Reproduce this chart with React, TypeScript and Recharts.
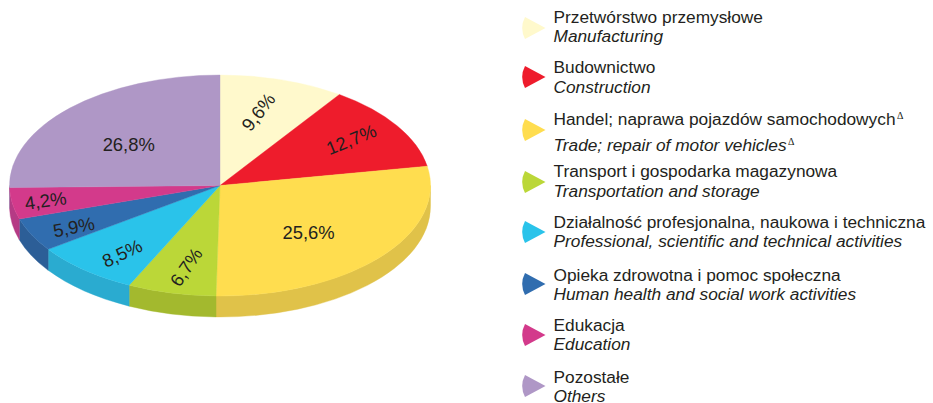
import { Legend, Pie, PieChart } from 'recharts'

// printed percentages
const sharesPrinted = ['9,6%', '12,7%', '25,6%', '6,7%', '8,5%', '5,9%', '4,2%', '26,8%']
// the wedges in the source drawing are not quite to scale, so sizes are read off the picture
const wedgeShares = [9.6, 12.6, 28.1, 6.8, 8.1, 4.9, 4.6, 25.3]
const namesPl = [
  'Przetwórstwo przemysłowe',
  'Budownictwo',
  'Handel; naprawa pojazdów samochodowych',
  'Transport i gospodarka magazynowa',
  'Działalność profesjonalna, naukowa i techniczna',
  'Opieka zdrowotna i pomoc społeczna',
  'Edukacja',
  'Pozostałe',
]
const namesEn = [
  'Manufacturing',
  'Construction',
  'Trade; repair of motor vehicles',
  'Transportation and storage',
  'Professional, scientific and technical activities',
  'Human health and social work activities',
  'Education',
  'Others',
]
const footnoted = [false, false, true, false, false, false, false, false]

const topColors = ['#FFF9CC', '#EE1C2C', '#FFDD4F', '#BBD738', '#2AC3EA', '#306DAF', '#D33A8B', '#AF97C6']
const wallColors = ['#E6E0B8', '#C8202C', '#E0C249', '#A3B92E', '#2AABD0', '#2C5E97', '#B53A85', '#9A86B0']

// label placement on the ellipse: radius factor, angle nudge (deg), text rotation
const labelRadius = [0.69, 0.75, 0.6, 0.755, 0.77, 0.79, 0.84, 0.57]
const labelNudge = [-2, -1, 5, -1, -3, -2, 0, -4]
const labelRotate = [-52, -22, 0, -55, -25, -11, -8, 0]

// legend rows: y of the two text lines and of the marker
const rowFirstY = [17, 67, 119, 171, 222, 275, 325, 377]
const rowSecondY = [36, 87, 145, 191, 241, 294, 344, 396]
const rowIconY = [28, 77, 130, 182, 232, 284, 335, 386]

const CX = 220
const CY = 185.5
const RX = 210.5
const RY = 110.5
const DEPTH = 21

const FONT = '"Liberation Sans", Arial, sans-serif'
const TEXT = '#231F20'

const data = namesPl.map((name, i) => ({ name, value: wedgeShares[i], fill: topColors[i] }))
const wallData = namesPl.map((name, i) => ({ name, value: wedgeShares[i], fill: wallColors[i] }))

const pt = (angle: number, dy = 0) => {
  const r = (angle * Math.PI) / 180
  return `${CX + RX * Math.cos(r)},${CY - RY * Math.sin(r) + dy}`
}

// flat sector squashed into an ellipse
const TopFace = (props: any) => {
  const { startAngle, endAngle, fill } = props
  const large = Math.abs(startAngle - endAngle) > 180 ? 1 : 0
  const d = `M${CX},${CY} L${pt(startAngle)} A${RX},${RY} 0 ${large} 1 ${pt(endAngle)} Z`
  return <path d={d} fill={fill} stroke={fill} strokeWidth={0.4} />
}

// visible side of the disc, only on the front half
const Wall = (props: any) => {
  const { startAngle, endAngle, fill } = props
  const hi = Math.min(startAngle, 0)
  const lo = Math.max(endAngle, -180)
  if (lo >= hi) return null
  const d =
    `M${pt(hi)} A${RX},${RY} 0 0 1 ${pt(lo)} ` +
    `L${pt(lo, DEPTH)} A${RX},${RY} 0 0 0 ${pt(hi, DEPTH)} Z`
  return <path d={d} fill={fill} stroke={fill} strokeWidth={0.4} />
}

const renderLabel = (props: any) => {
  const { index, midAngle } = props
  const r = ((midAngle - labelNudge[index]) * Math.PI) / 180
  const x = CX + RX * labelRadius[index] * Math.cos(r)
  const y = CY - RY * labelRadius[index] * Math.sin(r)
  return (
    <text
      x={x}
      y={y}
      fill={TEXT}
      fontSize={18.4}
      fontFamily={FONT}
      textAnchor="middle"
      dominantBaseline="central"
      transform={`rotate(${labelRotate[index]} ${x} ${y})`}
    >
      {sharesPrinted[index]}
    </text>
  )
}

const Delta = () => (
  <span style={{ fontFamily: '"Liberation Serif", serif', fontSize: 10, position: 'relative', top: -6, left: 1.5, fontStyle: 'normal' }}>Δ</span>
)

const lineStyle = (y: number, italic: boolean): React.CSSProperties => ({
  position: 'absolute',
  left: 553.5,
  top: y - 7,
  height: 14,
  lineHeight: '14px',
  whiteSpace: 'nowrap',
  fontStyle: italic ? 'italic' : 'normal',
})

const renderLegend = () => (
  <div style={{ position: 'absolute', left: 0, top: 0, width: 933, height: 403, fontFamily: FONT, fontSize: 17.3, color: TEXT }}>
    {namesPl.map((name, i) => (
      <div key={name}>
        <svg width={24} height={24} style={{ position: 'absolute', left: 521.5, top: rowIconY[i] - 12 }}>
          <path d="M23.5,12 L3,1 A24,24 0 0 0 3,23 Z" fill={topColors[i]} />
        </svg>
        <div style={lineStyle(rowFirstY[i], false)}>
          {name}
          {footnoted[i] && <Delta />}
        </div>
        <div style={lineStyle(rowSecondY[i], true)}>
          {namesEn[i]}
          {footnoted[i] && <Delta />}
        </div>
      </div>
    ))}
  </div>
)

export default function App() {
  return (
    <div style={{ position: 'absolute', left: 0, top: 0, width: 933, height: 403, background: '#fff' }}>
      <PieChart width={933} height={403} margin={{ top: 0, right: 0, bottom: 0, left: 0 }}>
        <Pie
          data={wallData}
          dataKey="value"
          nameKey="name"
          cx={CX}
          cy={CY}
          outerRadius={RX}
          startAngle={90}
          endAngle={-270}
          shape={Wall}
          legendType="none"
          isAnimationActive={false}
        />
        <Pie
          data={data}
          dataKey="value"
          nameKey="name"
          cx={CX}
          cy={CY}
          outerRadius={RX}
          startAngle={90}
          endAngle={-270}
          shape={TopFace}
          label={renderLabel}
          labelLine={false}
          isAnimationActive={false}
        />
        <Legend content={renderLegend} wrapperStyle={{ position: 'absolute', left: 0, top: 0, width: 933, height: 403 }} />
      </PieChart>
    </div>
  )
}
